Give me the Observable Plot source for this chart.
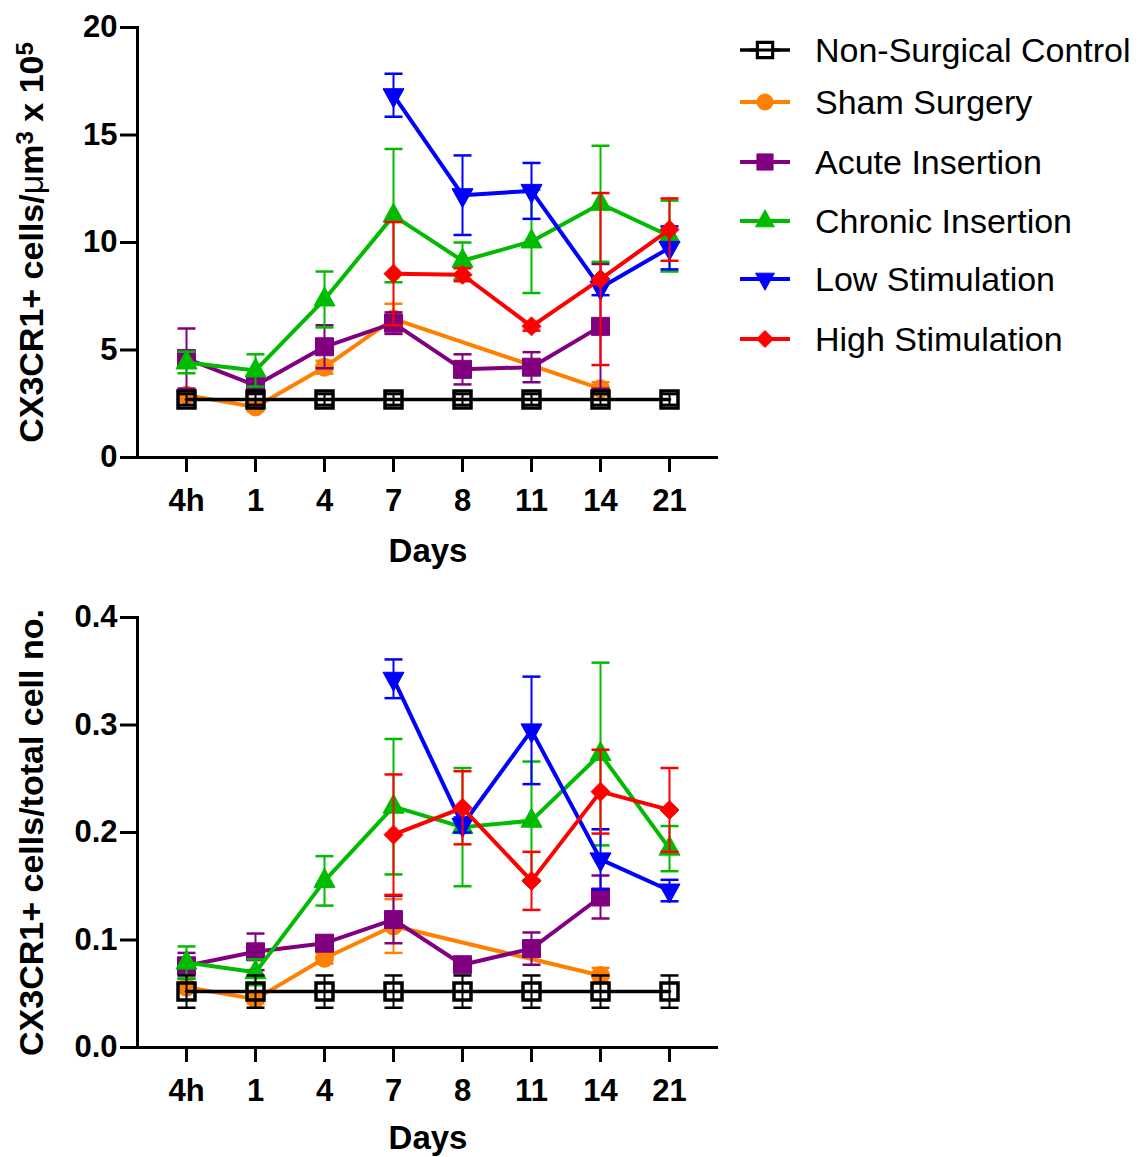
<!DOCTYPE html>
<html>
<head>
<meta charset="utf-8">
<script src="https://cdn.jsdelivr.net/npm/d3@7"></script>
<script src="https://cdn.jsdelivr.net/npm/@observablehq/plot@0.6"></script>
<style>
  body { margin: 0; background: #ffffff; }
  #wrap { position: relative; width: 1139px; height: 1157px; font-family: "Liberation Sans", Arial, sans-serif; color: #000; }
  #top { position: absolute; left: 0; top: 0; }
  #bottom { position: absolute; left: 0; top: 590px; }
  .row { position: absolute; left: 740px; height: 40px; display: flex; align-items: center; white-space: nowrap; }
  .row svg { display: block; }
  .row span { font-size: 34px; margin-left: 15px; line-height: 40px; }
</style>
</head>
<body>
<div id="wrap">
  <div id="top"></div>
  <div id="bottom"></div>
  <div id="legend"></div>
</div>
<script>
// ---------- categories & series ----------
const days = ["4h", "1", "4", "7", "8", "11", "14", "21"];
const seriesNames = ["Non-Surgical Control", "Sham Surgery", "Acute Insertion", "Chronic Insertion", "Low Stimulation", "High Stimulation"];
const seriesColors = ["#000000", "#ff8000", "#800080", "#00bb00", "#0000ff", "#ff0000"];

// ---------- top panel: CX3CR1+ cells / um^3 x 10^5 ----------
const densControlMean = [2.7, 2.7, 2.7, 2.7, 2.7, 2.7, 2.7, 2.7];
const densControlErr  = [0.25, 0.25, 0.25, 0.25, 0.25, 0.25, 0.25, 0.25];
const densShamMean    = [2.9, 2.35, 4.2, 6.45, null, null, 3.2, null];
const densShamErr     = [0.3, 0.2, 0.3, 0.7, null, null, 0.3, null];
const densAcuteMean   = [4.6, 3.35, 5.15, 6.25, 4.1, 4.2, 6.1, null];
const densAcuteErr    = [1.4, 0.3, 1.0, 0.5, 0.7, 0.7, 2.9, null];
const densChronicMean = [4.42, 4.05, 7.35, 11.25, 9.15, 10.05, 11.8, 10.3];
const densChronicErr  = [0.5, 0.75, 1.3, 3.1, 0.85, 2.4, 2.7, 1.65];
const densLowMean     = [null, null, null, 16.85, 12.2, 12.4, 7.9, 9.75];
const densLowErr      = [null, null, null, 1.0, 1.85, 1.3, 0.35, 1.0];
const densHighMean    = [null, null, null, 8.55, 8.5, 6.1, 8.3, 10.6];
const densHighErr     = [null, null, null, 2.4, 0.3, 0.2, 4.0, 1.45];

// ---------- bottom panel: CX3CR1+ cells / total cell no. ----------
const fracControlMean = [0.052, 0.052, 0.052, 0.052, 0.052, 0.052, 0.052, 0.052];
const fracControlErr  = [0.015, 0.015, 0.015, 0.015, 0.015, 0.015, 0.015, 0.015];
const fracShamMean    = [0.056, 0.045, 0.083, 0.113, null, null, 0.067, null];
const fracShamErr     = [0.005, 0.004, 0.005, 0.025, null, null, 0.007, null];
const fracAcuteMean   = [0.076, 0.089, 0.097, 0.119, 0.077, 0.092, 0.140, null];
const fracAcuteErr    = [0.012, 0.017, 0.007, 0.022, 0.005, 0.015, 0.020, null];
const fracChronicMean = [0.079, 0.070, 0.155, 0.224, 0.205, 0.211, 0.273, 0.185];
const fracChronicErr  = [0.015, 0.012, 0.023, 0.063, 0.055, 0.055, 0.085, 0.021];
const fracLowMean     = [null, null, null, 0.343, 0.207, 0.295, 0.175, 0.146];
const fracLowErr      = [null, null, null, 0.018, 0.007, 0.050, 0.028, 0.010];
const fracHighMean    = [null, null, null, 0.198, 0.223, 0.155, 0.238, 0.221];
const fracHighErr     = [null, null, null, 0.056, 0.034, 0.027, 0.039, 0.039];

const densTicks = [0, 5, 10, 15, 20];
const fracTicks = [0, 0.1, 0.2, 0.3, 0.4];

// ---------- symbols ----------
const symOpenSquare = {draw(c) { c.moveTo(-8.5, -8.5); c.lineTo(8.5, -8.5); c.lineTo(8.5, 8.5); c.lineTo(-8.5, 8.5); c.closePath(); }};
const symCircle = {draw(c) { c.moveTo(9, 0); c.arc(0, 0, 9, 0, 2 * Math.PI); c.closePath(); }};
const symSquare = {draw(c) { c.moveTo(-9, -9); c.lineTo(9, -9); c.lineTo(9, 9); c.lineTo(-9, 9); c.closePath(); }};
const symTriUp = {draw(c) { c.moveTo(0, -12.5); c.lineTo(10.5, 6.5); c.lineTo(-10.5, 6.5); c.closePath(); }};
const symTriDown = {draw(c) { c.moveTo(0, 12.5); c.lineTo(10.5, -6.5); c.lineTo(-10.5, -6.5); c.closePath(); }};
const symDiamond = {draw(c) { c.moveTo(0, -9.5); c.lineTo(9.5, 0); c.lineTo(0, 9.5); c.lineTo(-9.5, 0); c.closePath(); }};
const symCap = {draw(c) { c.moveTo(-9, 0); c.lineTo(9, 0); }};
const seriesSymbols = [symOpenSquare, symCircle, symSquare, symTriUp, symTriDown, symDiamond];

function table(means, errs) {
  return days.map((d, i) => ({day: d, mean: means[i], err: errs[i]})).filter(r => r.mean != null);
}

function panel({series, domain, ticks, tickFormat, labelParts, height, marginBottom, daysDy}) {
  // draw order: others first, control on top
  const order = [1, 2, 3, 4, 5, 0];
  const marks = [];
  for (const k of order) {
    const data = series[k];
    const color = seriesColors[k];
    const isControl = k === 0;
    marks.push(
      Plot.ruleX(data, {x: "day", y1: d => d.mean - d.err, y2: d => d.mean + d.err, stroke: color, strokeWidth: 2}),
      Plot.dot(data, {x: "day", y: d => d.mean + d.err, symbol: symCap, fill: "none", stroke: color, strokeWidth: 2.5}),
      Plot.dot(data, {x: "day", y: d => d.mean - d.err, symbol: symCap, fill: "none", stroke: color, strokeWidth: 2.5}),
      Plot.line(data, {x: "day", y: "mean", stroke: color, strokeWidth: isControl ? 3.5 : 4}),
      Plot.dot(data, {x: "day", y: "mean", symbol: seriesSymbols[k],
        fill: isControl ? "none" : color, stroke: color, strokeWidth: isControl ? 3.5 : 1})
    );
  }
  const plainLabel = labelParts.map(p => p.t).join("");
  const chart = Plot.plot({
    width: 740,
    height,
    marginLeft: 137,
    marginRight: 22,
    marginTop: 27,
    marginBottom,
    style: {fontFamily: "'Liberation Sans', Arial, sans-serif", color: "#000", background: "#fff"},
    x: {type: "point", domain: days, padding: 0.66},
    y: {domain},
    marks: [
      Plot.axisY({ticks, tickFormat, tickSize: 17, tickPadding: 3, fontSize: 31, fontWeight: "bold", strokeWidth: 3, label: null}),
      Plot.axisX({tickSize: 15, tickPadding: 16, fontSize: 31, fontWeight: "bold", strokeWidth: 3, label: null}),
      Plot.frame({anchor: "left", strokeWidth: 3}),
      Plot.ruleY([0], {strokeWidth: 3}),
      ...marks,
      Plot.text(["Days"], {frameAnchor: "bottom", dy: daysDy, fontSize: 33, fontWeight: "bold", textAnchor: "middle", lineAnchor: "middle"}),
      Plot.text([plainLabel], {frameAnchor: "left", dx: -105, rotate: -90, fontSize: 34, fontWeight: "bold", textAnchor: "middle", lineAnchor: "middle", className: "ylab"})
    ]
  });
  // rich text (superscripts, non-bold mu) for the y-axis label
  const t = d3.select(chart).select("g.ylab text");
  if (!t.empty() && labelParts.length > 1) {
    t.text(null);
    for (const p of labelParts) {
      const s = t.append("tspan").text(p.t);
      if (p.sup) s.attr("font-size", 24).attr("baseline-shift", "42%");
      if (p.normal) s.attr("font-weight", "normal");
    }
  }
  return chart;
}

const topChart = panel({
  series: [
    table(densControlMean, densControlErr),
    table(densShamMean, densShamErr),
    table(densAcuteMean, densAcuteErr),
    table(densChronicMean, densChronicErr),
    table(densLowMean, densLowErr),
    table(densHighMean, densHighErr)
  ],
  domain: [0, 20], ticks: densTicks, tickFormat: d3.format("d"),
  labelParts: [{t: "CX3CR1+ cells/"}, {t: "\u03BC", normal: true}, {t: "m"}, {t: "3", sup: true}, {t: " x 10"}, {t: "5", sup: true}],
  height: 590, marginBottom: 133, daysDy: 94
});
document.getElementById("top").appendChild(topChart);

const bottomChart = panel({
  series: [
    table(fracControlMean, fracControlErr),
    table(fracShamMean, fracShamErr),
    table(fracAcuteMean, fracAcuteErr),
    table(fracChronicMean, fracChronicErr),
    table(fracLowMean, fracLowErr),
    table(fracHighMean, fracHighErr)
  ],
  domain: [0, 0.4], ticks: fracTicks, tickFormat: d3.format(".1f"),
  labelParts: [{t: "CX3CR1+ cells/total cell no."}],
  height: 567, marginBottom: 110, daysDy: 91
});
document.getElementById("bottom").appendChild(bottomChart);

// ---------- legend ----------
const legendCenters = [50, 102, 162, 221, 279, 339];
const legend = document.getElementById("legend");
seriesNames.forEach((name, k) => {
  const row = document.createElement("div");
  row.className = "row";
  row.style.top = (legendCenters[k] - 20) + "px";
  const p = d3.path();
  seriesSymbols[k].draw(p);
  const isControl = k === 0;
  const c = seriesColors[k];
  row.innerHTML =
    `<svg width="60" height="40"><line x1="0" x2="50" y1="20" y2="20" stroke="${c}" stroke-width="${isControl ? 3.5 : 4}"/>` +
    `<path transform="translate(25,20) scale(0.9)" d="${p.toString()}" fill="${isControl ? "#fff" : c}" stroke="${c}" stroke-width="${isControl ? 3.5 : 1}"/>` +
    (isControl ? `<line x1="10" x2="40" y1="20" y2="20" stroke="${c}" stroke-width="3"/>` : "") +
    `</svg><span>${name}</span>`;
  legend.appendChild(row);
});
</script>
</body>
</html>
